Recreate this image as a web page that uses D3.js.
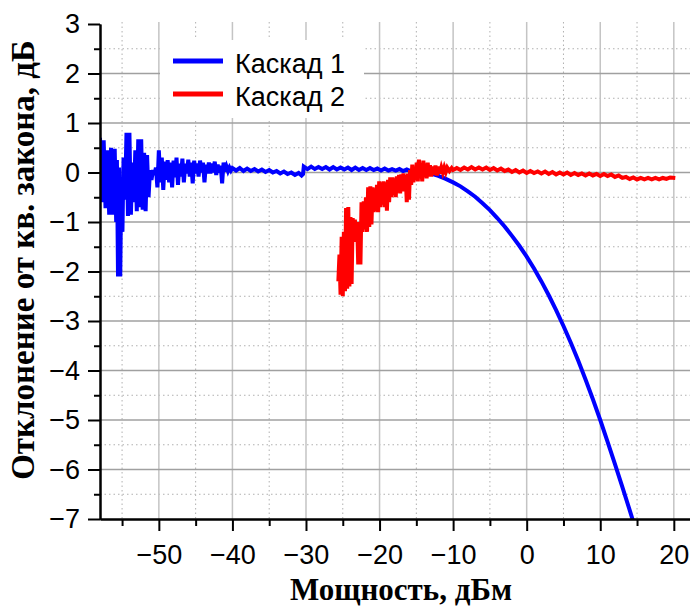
<!DOCTYPE html>
<html>
<head>
<meta charset="utf-8">
<script src="https://cdnjs.cloudflare.com/ajax/libs/d3/7.8.5/d3.min.js"></script>
<style>
  body { margin: 0; background: #fff; }
  svg { display: block; }
  .tick text { font-family: "Liberation Sans", Arial, sans-serif; font-size: 27px; fill: #000; }
</style>
</head>
<body>
<script>
// Каскад 1: [мощность, дБм ; отклонение, дБ]
const kaskad1 = [
  [-58.00, 0.70], [-57.75, -0.60], [-57.50, 0.65], [-57.25, -0.72], [-57.00, 0.45], [-56.75, -0.85],
  [-56.50, 0.50], [-56.25, -0.85], [-56.00, 0.48], [-55.80, -1.00], [-55.70, 0.25], [-55.55, -2.10],
  [-55.40, 0.10], [-55.25, -2.10], [-55.10, -0.10], [-54.95, -1.20], [-54.80, 0.30], [-54.60, -0.55],
  [-54.40, 0.80], [-54.20, -0.88], [-54.00, 0.80], [-53.80, -0.85], [-53.60, 0.20], [-53.40, -0.60],
  [-53.20, 0.45], [-53.00, -0.78], [-52.80, 0.67], [-52.60, -0.70], [-52.40, 0.67], [-52.20, -0.75],
  [-52.00, 0.40], [-51.80, -0.78], [-51.60, 0.35], [-51.40, -0.50], [-51.20, 0.05], [-51.00, -0.15],
  [-50.80, 0.05], [-50.60, -0.05], [-50.40, 0.10], [-50.20, -0.30], [-50.00, 0.45], [-49.80, -0.20],
  [-49.60, 0.30], [-49.40, -0.35], [-49.20, 0.22], [-49.00, -0.15], [-48.80, 0.25], [-48.60, -0.20],
  [-48.40, 0.20], [-48.20, -0.30], [-48.00, 0.24], [-47.80, -0.10], [-47.60, 0.30], [-47.40, -0.25],
  [-47.20, 0.18], [-47.00, -0.08], [-46.80, 0.28], [-46.60, -0.20], [-46.40, 0.18], [-46.20, -0.02],
  [-46.00, 0.26], [-45.80, -0.08], [-45.60, 0.20], [-45.40, -0.22], [-45.20, 0.24], [-45.00, -0.02],
  [-44.80, 0.18], [-44.60, -0.08], [-44.40, 0.24], [-44.20, 0.00], [-44.00, 0.20], [-43.80, -0.20],
  [-43.60, 0.16], [-43.40, -0.02], [-43.20, 0.20], [-43.00, -0.02], [-42.80, 0.18], [-42.60, 0.00],
  [-42.40, 0.22], [-42.20, -0.05], [-42.00, 0.16], [-41.80, 0.00], [-41.60, 0.14], [-41.40, -0.22],
  [-41.20, 0.20], [-41.00, 0.02], [-40.80, 0.12], [-40.60, 0.03], [-40.40, 0.10], [-40.20, 0.04],
  [-40.00, 0.09], [-39.50, 0.04], [-39.00, 0.09], [-38.50, 0.03], [-38.00, 0.08], [-37.50, 0.03],
  [-37.00, 0.07], [-36.50, 0.02], [-36.00, 0.06], [-35.50, 0.01], [-35.00, 0.05], [-34.50, 0.00],
  [-34.00, 0.03], [-33.50, -0.02], [-33.00, 0.02], [-32.50, -0.03], [-32.00, 0.00], [-31.50, -0.05],
  [-31.00, -0.01], [-30.60, -0.06], [-30.40, -0.03], [-30.30, 0.12], [-29.80, 0.07], [-29.30, 0.12],
  [-28.80, 0.07], [-28.30, 0.11], [-27.80, 0.07], [-27.30, 0.11], [-26.80, 0.06], [-26.30, 0.11],
  [-25.80, 0.06], [-25.30, 0.10], [-24.80, 0.06], [-24.30, 0.10], [-23.80, 0.05], [-23.30, 0.10],
  [-22.80, 0.05], [-22.30, 0.09], [-21.80, 0.05], [-21.30, 0.09], [-20.80, 0.05], [-20.30, 0.08],
  [-19.80, 0.04], [-19.30, 0.08], [-18.80, 0.04], [-18.30, 0.07], [-17.80, 0.04], [-17.30, 0.07],
  [-16.80, 0.03], [-16.30, 0.06], [-15.80, 0.03], [-15.30, 0.05], [-14.50, 0.02], [-13.50, 0.00],
  [-13.00, -0.02], [-12.00, -0.07], [-11.00, -0.13], [-10.00, -0.20], [-9.00, -0.28], [-8.00, -0.38],
  [-7.00, -0.49], [-6.00, -0.62], [-5.00, -0.76], [-4.00, -0.92], [-3.00, -1.09], [-2.00, -1.28],
  [-1.00, -1.48], [0.00, -1.70], [1.00, -1.94], [2.00, -2.20], [3.00, -2.48], [4.00, -2.78],
  [5.00, -3.10], [6.00, -3.44], [7.00, -3.80], [8.00, -4.18], [9.00, -4.58], [10.00, -5.00],
  [11.00, -5.44], [12.00, -5.89], [13.00, -6.35], [14.00, -6.82], [14.50, -7.06], [14.80, -7.20]
];

// Каскад 2
const kaskad2 = [
  [-25.60, -2.20], [-25.45, -1.66], [-25.30, -2.47], [-25.15, -1.30], [-25.00, -2.50], [-24.85, -1.20],
  [-24.70, -2.40], [-24.55, -0.72], [-24.40, -2.35], [-24.25, -0.70], [-24.10, -2.30], [-23.95, -0.90],
  [-23.80, -2.25], [-23.65, -0.92], [-23.50, -1.40], [-23.35, -0.95], [-23.20, -1.40], [-23.05, -1.00],
  [-22.90, -1.86], [-22.75, -1.00], [-22.60, -1.86], [-22.45, -0.60], [-22.30, -1.20], [-22.15, -0.58],
  [-22.00, -1.15], [-21.85, -0.50], [-21.70, -1.20], [-21.55, -0.30], [-21.40, -1.10], [-21.25, -0.28],
  [-21.10, -1.05], [-20.95, -0.30], [-20.80, -0.80], [-20.65, -0.32], [-20.50, -0.78], [-20.35, -0.25],
  [-20.20, -0.80], [-20.05, -0.18], [-19.90, -0.70], [-19.75, -0.20], [-19.60, -0.65], [-19.45, -0.18],
  [-19.30, -0.70], [-19.15, -0.20], [-19.00, -0.77], [-18.85, -0.15], [-18.70, -0.60], [-18.55, -0.10],
  [-18.40, -0.50], [-18.25, -0.10], [-18.10, -0.45], [-17.95, -0.12], [-17.80, -0.50], [-17.65, -0.08],
  [-17.50, -0.40], [-17.35, -0.05], [-17.20, -0.42], [-17.05, -0.04], [-16.90, -0.38], [-16.75, -0.02],
  [-16.60, -0.35], [-16.45, -0.05], [-16.30, -0.60], [-16.15, -0.02], [-16.00, -0.55], [-15.85, 0.05],
  [-15.70, -0.25], [-15.55, 0.16], [-15.40, -0.20], [-15.25, 0.10], [-15.10, -0.15], [-14.95, 0.20],
  [-14.80, -0.18], [-14.65, 0.26], [-14.50, -0.10], [-14.35, 0.15], [-14.20, -0.18], [-14.05, 0.24],
  [-13.90, -0.05], [-13.75, 0.18], [-13.60, -0.12], [-13.45, 0.20], [-13.30, -0.08], [-13.15, 0.15],
  [-13.00, -0.08], [-12.80, 0.12], [-12.60, -0.05], [-12.40, 0.14], [-12.20, -0.06], [-12.00, 0.12],
  [-11.80, -0.02], [-11.60, 0.10], [-11.40, 0.00], [-11.20, 0.10], [-11.00, 0.01], [-10.80, 0.10],
  [-10.50, 0.03], [-10.20, 0.09], [-10.00, 0.05], [-9.50, 0.09], [-9.00, 0.05], [-8.50, 0.10],
  [-8.00, 0.06], [-7.50, 0.11], [-7.00, 0.06], [-6.50, 0.10], [-6.00, 0.06], [-5.50, 0.10],
  [-5.00, 0.05], [-4.50, 0.09], [-4.00, 0.04], [-3.50, 0.08], [-3.00, 0.03], [-2.50, 0.06],
  [-2.00, 0.01], [-1.50, 0.05], [-1.00, 0.00], [-0.50, 0.04], [0.00, -0.01], [0.50, 0.03],
  [1.00, -0.01], [1.50, 0.02], [2.00, -0.02], [2.50, 0.02], [3.00, -0.03], [3.50, 0.01],
  [4.00, -0.04], [4.50, 0.00], [5.00, -0.04], [5.50, 0.00], [6.00, -0.05], [6.50, -0.01],
  [7.00, -0.05], [7.50, -0.02], [8.00, -0.06], [8.50, -0.02], [9.00, -0.06], [9.50, -0.03],
  [10.00, -0.07], [10.50, -0.03], [11.00, -0.07], [11.50, -0.04], [12.00, -0.09], [12.50, -0.06],
  [13.00, -0.11], [13.50, -0.09], [14.00, -0.13], [14.50, -0.10], [15.00, -0.14], [15.50, -0.11],
  [16.00, -0.14], [16.50, -0.11], [17.00, -0.14], [17.50, -0.11], [18.00, -0.14], [18.50, -0.11],
  [19.00, -0.13], [19.50, -0.10], [20.20, -0.11]
];

const seriesNames = ['Каскад 1', 'Каскад 2'];
const seriesColors = ['#0000ff', '#ff0000'];
const xMajor = [-50, -40, -30, -20, -10, 0, 10, 20];
const xMinor = [-55, -45, -35, -25, -15, -5, 5, 15];
const yMajor = [3, 2, 1, 0, -1, -2, -3, -4, -5, -6, -7];
const yMinor = [2.5, 1.5, 0.5, -0.5, -1.5, -2.5, -3.5, -4.5, -5.5, -6.5];
const xTitle = 'Мощность, дБм';
const yTitle = 'Отклонение от кв. закона, дБ';

const width = 690, height = 607;
const plotLeft = 100, plotRight = 690, plotTop = 24, plotBottom = 519;

const svg = d3.select('body').append('svg')
  .attr('width', width)
  .attr('height', height);

const x = d3.scaleLinear().domain([-58, 22.2]).range([plotLeft, plotRight]);
const y = d3.scaleLinear().domain([-7, 3]).range([plotBottom, plotTop]);

// grid
const grid = svg.append('g');
grid.selectAll('.vmin').data(xMinor).enter().append('line')
  .attr('x1', d => x(d)).attr('x2', d => x(d)).attr('y1', plotTop - 2).attr('y2', plotBottom)
  .attr('stroke', '#b0b0b0').attr('stroke-width', 1).attr('stroke-dasharray', '1.5,3');
grid.selectAll('.hmin').data(yMinor).enter().append('line')
  .attr('x1', plotLeft).attr('x2', plotRight).attr('y1', d => y(d)).attr('y2', d => y(d))
  .attr('stroke', '#b0b0b0').attr('stroke-width', 1).attr('stroke-dasharray', '1.5,3');
grid.selectAll('.vmaj').data(xMajor).enter().append('line')
  .attr('x1', d => x(d)).attr('x2', d => x(d)).attr('y1', plotTop - 2).attr('y2', plotBottom)
  .attr('stroke', '#c4c4c4').attr('stroke-width', 1.5);
grid.selectAll('.hmaj').data(yMajor.filter(d => d !== 3 && d !== -7)).enter().append('line')
  .attr('x1', plotLeft).attr('x2', plotRight).attr('y1', d => y(d)).attr('y2', d => y(d))
  .attr('stroke', '#a0a0a0').attr('stroke-width', 1.5);

// legend background hides grid
svg.append('rect').attr('x', 160).attr('y', 40).attr('width', 204).attr('height', 78).attr('fill', '#fff');

// lines
svg.append('clipPath').attr('id', 'plot')
  .append('rect').attr('x', plotLeft).attr('y', plotTop).attr('width', plotRight - plotLeft).attr('height', plotBottom - plotTop);

const line = d3.line().x(d => x(d[0])).y(d => y(d[1]));
[kaskad1, kaskad2].forEach((s, i) => {
  svg.append('path')
    .datum(s)
    .attr('clip-path', 'url(#plot)')
    .attr('d', line)
    .attr('fill', 'none')
    .attr('stroke', seriesColors[i])
    .attr('stroke-width', 4)
    .attr('stroke-linejoin', 'miter');
});

// axes
svg.append('g').attr('transform', `translate(0,${plotBottom})`)
  .call(d3.axisBottom(x).tickValues(xMajor).tickSize(12).tickSizeOuter(0).tickPadding(14));
svg.append('g').attr('transform', `translate(0,${plotBottom})`)
  .call(d3.axisBottom(x).tickValues(xMinor).tickSize(7).tickSizeOuter(0).tickFormat(''));
svg.append('g').attr('transform', `translate(${plotLeft},0)`)
  .call(d3.axisLeft(y).tickValues(yMajor).tickSize(12).tickSizeOuter(0).tickPadding(8));
svg.append('g').attr('transform', `translate(${plotLeft},0)`)
  .call(d3.axisLeft(y).tickValues(yMinor).tickSize(6).tickSizeOuter(0).tickFormat(''));
svg.selectAll('.domain').attr('stroke', '#000').attr('stroke-width', 2);
svg.selectAll('.tick line').attr('stroke', '#000').attr('stroke-width', 2);

// titles
svg.append('text')
  .attr('x', 401).attr('y', 600)
  .attr('text-anchor', 'middle')
  .style('font-family', '"Liberation Serif", "Times New Roman", serif')
  .style('font-weight', 'bold').style('font-size', '31px')
  .text(xTitle);
svg.append('text')
  .attr('transform', 'translate(34,260) rotate(-90)')
  .attr('text-anchor', 'middle')
  .style('font-family', '"Liberation Serif", "Times New Roman", serif')
  .style('font-weight', 'bold').style('font-size', '33px')
  .text(yTitle);

// legend
const legend = svg.append('g');
seriesNames.forEach((name, i) => {
  const ly = 61 + i * 33;
  legend.append('line').attr('x1', 173).attr('x2', 223).attr('y1', ly).attr('y2', ly)
    .attr('stroke', seriesColors[i]).attr('stroke-width', 5);
  legend.append('text').attr('x', 235).attr('y', ly + 12)
    .style('font-family', '"Liberation Sans", Arial, sans-serif').style('font-size', '27px')
    .text(name);
});
</script>
</body>
</html>
